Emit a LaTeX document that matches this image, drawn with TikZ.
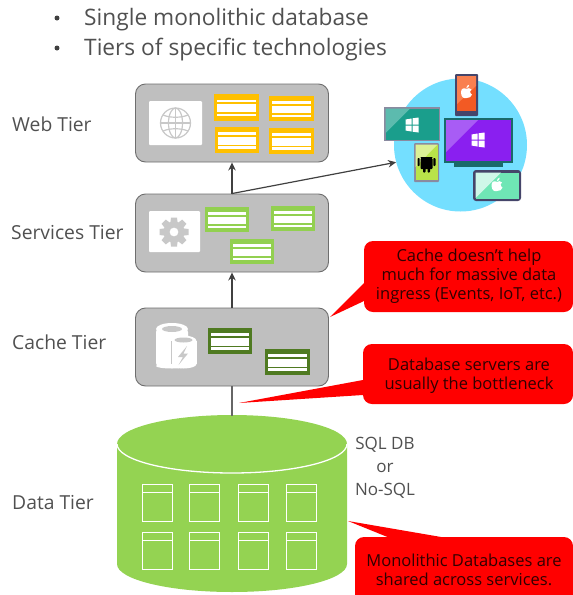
\documentclass[tikz,border=0pt]{standalone}
\usepackage{fontspec}
\setmainfont{Open Sans}
\usetikzlibrary{arrows.meta}
\definecolor{boxgray}{HTML}{BFBFBF}
\definecolor{edgegray}{HTML}{6E6E6E}
\definecolor{icongray}{HTML}{C8C8C8}
\definecolor{txt}{HTML}{505050}
\definecolor{yel}{HTML}{FFC000}
\definecolor{lgreen}{HTML}{92D050}
\definecolor{dgreen}{HTML}{4F7A21}
\definecolor{dbgreen}{HTML}{94D352}
\definecolor{sky}{HTML}{74DFFF}
\definecolor{frame}{HTML}{45456A}
\definecolor{calltxt}{HTML}{300000}
\definecolor{phoneor}{HTML}{F25A24}
\definecolor{phonelt}{HTML}{F98050}
\definecolor{tealscr}{HTML}{1A9E8C}
\definecolor{teallt}{HTML}{5CBBAE}
\definecolor{tealframe}{HTML}{8A8AA0}
\definecolor{monframe}{HTML}{1A6A6A}
\definecolor{purp}{HTML}{8A1FF0}
\definecolor{purplt}{HTML}{A85CF5}
\definecolor{andr}{HTML}{B9E34A}
\definecolor{andrlt}{HTML}{DCF096}
\definecolor{mint}{HTML}{6FE6B5}
\definecolor{mintlt}{HTML}{CFF7E8}
\tikzset{
  tier/.style={draw=edgegray,line width=0.9pt,fill=boxgray,rounded corners=10pt,minimum width=193pt,minimum height=78pt,inner sep=0pt},
  tierlabel/.style={anchor=west,inner sep=0pt,text=txt,font=\fontsize{19.3}{23}\selectfont},
  bullettext/.style={anchor=west,inner sep=0pt,text=txt,font=\fontsize{22.7}{28}\selectfont},
  bulletdot/.style={circle,fill=txt!80!black,minimum size=5pt,inner sep=0pt},
  dbtext/.style={inner sep=0pt,text=txt,font=\fontsize{17}{20}\selectfont},
  calltext/.style={inner sep=0pt,text=calltxt,align=center,font=\fontsize{16.5}{19}\selectfont},
  flow/.style={draw=black!75,line width=1.2pt,-{Stealth[length=8pt,width=7.5pt]}},
  plainflow/.style={draw=black!60,line width=1.2pt},
  callfill/.style={fill=red,draw=none},
}
\newcommand{\cardbox}[5]{%
  \fill[#5] (#1,#2) rectangle (#3,#4);
  \fill[white] ({#1+3},{#2+0.21*(#4-#2)}) rectangle ({#3-3},{#2+0.30*(#4-#2)});
  \fill[white] ({#1+3},{#2+0.38*(#4-#2)}) rectangle ({#3-3},{#2+0.68*(#4-#2)});
  \fill[white] ({#1+3},{#2+0.74*(#4-#2)}) rectangle ({#3-3},{#2+0.83*(#4-#2)});
}
\newcommand{\tbl}[2]{%
  \draw[white,line width=1pt] (#1,#2) rectangle ({#1+30},{#2+37});
  \draw[white,line width=1pt] (#1,{#2+8}) -- ({#1+30},{#2+8});
}
\newcommand{\winlogo}[2]{%
  \fill[white] ({#1-6.5},{#2-5.5}) -- ({#1-0.5},{#2-6.5}) -- ({#1-0.5},{#2-0.5}) -- ({#1-6.5},{#2-0.5}) -- cycle;
  \fill[white] ({#1+0.5},{#2-6.7}) -- ({#1+6.5},{#2-7.5}) -- ({#1+6.5},{#2-0.5}) -- ({#1+0.5},{#2-0.5}) -- cycle;
  \fill[white] ({#1-6.5},{#2+0.5}) -- ({#1-0.5},{#2+0.5}) -- ({#1-0.5},{#2+6.5}) -- ({#1-6.5},{#2+5.5}) -- cycle;
  \fill[white] ({#1+0.5},{#2+0.5}) -- ({#1+6.5},{#2+0.5}) -- ({#1+6.5},{#2+7.5}) -- ({#1+0.5},{#2+6.7}) -- cycle;
}
\newcommand{\applelogo}[2]{%
  \fill[white] ({#1},{#2-3}) .. controls ({#1-2},{#2-4.5}) and ({#1-6},{#2-4}) .. ({#1-5.5},{#2+1})
     .. controls ({#1-5},{#2+5}) and ({#1-3},{#2+7}) .. ({#1},{#2+6})
     .. controls ({#1+3},{#2+7}) and ({#1+5},{#2+4}) .. ({#1+5.5},{#2+2.5})
     .. controls ({#1+3},{#2+1}) and ({#1+3},{#2-2}) .. ({#1+5},{#2-2.5})
     .. controls ({#1+3.5},{#2-4.5}) and ({#1+1.5},{#2-4}) .. cycle;
  \fill[white] ({#1-0.3},{#2-3.7}) .. controls ({#1-0.3},{#2-6}) and ({#1+1.5},{#2-7}) .. ({#1+2.7},{#2-7.3})
     .. controls ({#1+2.8},{#2-5.5}) and ({#1+1.5},{#2-4}) .. cycle;
}
\begin{document}
\begin{tikzpicture}[x=1pt,y=-1pt]
\useasboundingbox (0,0) rectangle (573,595);
% bullets
\node[bulletdot] (b1dot) at (57,18) {};
\node[bullettext] (b1) at (84,19.5) {Single monolithic database};
\node[bulletdot] (b2dot) at (57,48) {};
\node[bullettext] (b2) at (84,50) {Tiers of specific technologies};
% tier labels
\node[tierlabel] (lweb) at (12,124) {Web Tier};
\node[tierlabel] (lsvc) at (11,233) {Services Tier};
\node[tierlabel] (lcache) at (12,342) {Cache Tier};
\node[tierlabel] (ldata) at (12,503) {Data Tier};
% device circle
\node[circle,fill=sky,minimum size=133pt,inner sep=0pt] (devices) at (460.5,145) {};
% tiers
\node[tier] (web) at (232,123) {};
\node[tier] (svc) at (232,233) {};
\node[tier] (cache) at (232,347) {};
% database cylinder
\fill[dbgreen] (117,444) -- (117,564) arc[start angle=180,end angle=360,x radius=115,y radius=-28] -- (347,444) -- cycle;
\fill[dbgreen] (232,444) ellipse[x radius=115,y radius=29];
\draw[white,line width=1.3pt] (117,444) arc[start angle=180,end angle=360,x radius=115,y radius=-29];
\coordinate (dbtop) at (232,416);
\foreach \cx in {142,189.5,238,286.5}{\tbl{\cx}{484}\tbl{\cx}{532}}
% connectors
\draw[plainflow] (cache.south) -- (dbtop);
\draw[flow] (cache.north) -- (svc.south);
\draw[flow] (svc.north) -- (web.south);
\draw[flow] (svc.north) -- (devices.195);
% web cards
\fill[white,rounded corners=1pt] (149,101) rectangle (202,145);
\begin{scope}[icongray,line width=1.2pt]
\draw (175.5,123) circle[radius=15];
\draw (175.5,123) ellipse[x radius=7,y radius=15];
\draw (175.5,108) -- (175.5,138);
\draw (160.5,123) -- (190.5,123);
\draw (163,115) .. controls (170,118) and (181,118) .. (188,115);
\draw (163,131) .. controls (170,128) and (181,128) .. (188,131);
\end{scope}
\cardbox{214}{94}{259}{121}{yel}
\cardbox{269}{96}{314}{121}{yel}
\cardbox{215}{127}{259}{153}{yel}
\cardbox{269}{128}{314}{154}{yel}
% services cards
\fill[white,rounded corners=1pt] (149,211) rectangle (200,252);
\foreach \a in {0,45,...,315}{\fill[icongray,rotate around={\a:(174,232)}] (171,217.5) -- (177,217.5) -- (177.8,224) -- (170.2,224) -- cycle;}
\fill[icongray,even odd rule] (174,232) circle[radius=10.5] (174,232) circle[radius=4.5];
\cardbox{205}{207}{249}{232}{lgreen}
\cardbox{271}{206}{315}{231}{lgreen}
\cardbox{230}{239}{274}{264}{lgreen}
% cache icon
\fill[white,rounded corners=3pt] (156,329) rectangle (188,366);
\fill[white] (172,329) ellipse[x radius=16,y radius=6];
\fill[white] (172,366) ellipse[x radius=16,y radius=2.5];
\fill[icongray] (172,329) ellipse[x radius=10,y radius=3];
\fill[white] (183.5,341) ellipse[x radius=13,y radius=5.5];
\fill[white] (170.5,341) rectangle (196.5,364);
\fill[white] (183.5,364) ellipse[x radius=13,y radius=4.5];
\draw[icongray,line width=0.8pt] (171.5,341) -- (171.5,364);
\fill[icongray] (183.5,340) ellipse[x radius=9,y radius=2.5];
\fill[icongray] (187,346) -- (178,357) -- (183,357) -- (178.5,365) -- (188,353.5) -- (183.5,353.5) -- cycle;
\cardbox{208}{328}{252}{354}{dgreen}
\cardbox{265}{349}{310}{375}{dgreen}
% db text
\node[dbtext] (sql) at (385,445) {SQL DB};
\node[dbtext] (or) at (385,468) {or};
\node[dbtext] (nosql) at (385,491) {No-SQL};
% phone
\fill[frame,rounded corners=1pt] (455,74) rectangle (478,116);
\fill[phoneor] (457,76) rectangle (476,111);
\fill[phonelt] (457,76) -- (476,76) -- (476,86) -- (457,104) -- cycle;
\applelogo{466.5}{92}
% teal tablet
\fill[tealframe] (384,107) rectangle (440,141);
\fill[tealscr] (385.5,108.5) rectangle (438.5,139.5);
\fill[teallt] (385.5,108.5) -- (410,108.5) -- (385.5,133) -- cycle;
\winlogo{412}{125}
% monitor
\fill[monframe] (444,118) rectangle (513,163);
\fill[monframe] (454,163) rectangle (503,166.5);
\fill[purp] (446,120) rectangle (511,161);
\fill[purplt] (446,120) -- (478,120) -- (446,152) -- cycle;
\winlogo{478}{140}
% android
\fill[tealframe,rounded corners=1pt] (414,143) rectangle (439,182);
\fill[andr] (415.5,144.5) rectangle (437.5,180);
\fill[andrlt] (415.5,144.5) -- (437.5,144.5) -- (415.5,167) -- cycle;
\fill[black] (420.5,157) arc[start angle=180,end angle=360,x radius=6,y radius=-5.5] -- cycle;
\fill[black,rounded corners=1pt] (420.5,158) rectangle (432.5,169);
\fill[black,rounded corners=0.8pt] (417.5,158) rectangle (419.6,166);
\fill[black,rounded corners=0.8pt] (433.4,158) rectangle (435.5,166);
\fill[black,rounded corners=0.8pt] (423,168) rectangle (425.5,172.5);
\fill[black,rounded corners=0.8pt] (427.5,168) rectangle (430,172.5);
% apple tablet
\fill[frame,rounded corners=3pt] (473,170) rectangle (521,201);
\fill[mint] (475.5,172.5) rectangle (518.5,198.5);
\fill[mintlt] (475.5,172.5) -- (501,172.5) -- (475.5,198) -- cycle;
\applelogo{497}{185}
% callouts
\fill[callfill,rounded corners=9pt] (364,241) rectangle (573,312);
\fill[callfill] (364,283) -- (330,317) -- (364,301) -- cycle;
\node[calltext] (c1) at (469,276) {Cache doesn't help\\much for massive data\\ingress (Events, IoT, etc.)};
\fill[callfill,rounded corners=9pt] (363,344) rectangle (573,404);
\fill[callfill] (363,380) -- (239,403) -- (363,395) -- cycle;
\node[calltext] (c2) at (469,376) {Database servers are\\usually the bottleneck};
\fill[callfill,rounded corners=9pt] (355,537) rectangle (573,605);
\fill[callfill] (390,538) -- (348,521) -- (447,538) -- cycle;
\node[calltext] (c3) at (464,570) {Monolithic Databases are\\shared across services.};
\end{tikzpicture}
\end{document}
